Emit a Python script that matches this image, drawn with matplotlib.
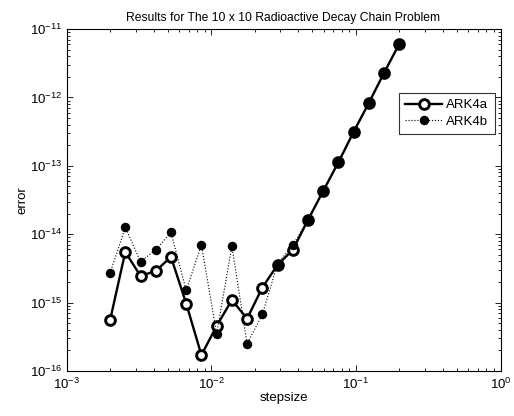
import matplotlib
matplotlib.use("Agg")
import matplotlib.pyplot as plt
from matplotlib.ticker import LogLocator, NullFormatter

plt.rcParams['font.family'] = ['Liberation Sans', 'DejaVu Sans']
plt.rcParams['mathtext.fontset'] = 'custom'
plt.rcParams['mathtext.rm'] = 'Liberation Sans'
plt.rcParams['mathtext.it'] = 'Liberation Sans:italic'
plt.rcParams['mathtext.bf'] = 'Liberation Sans:bold'

stepsize = [0.002, 0.002549, 0.003248, 0.004138, 0.005273, 0.006720, 0.008563,
            0.010911, 0.013904, 0.017717, 0.022577, 0.028769, 0.036660, 0.046714,
            0.059527, 0.075853, 0.096658, 0.12317, 0.15695, 0.2]
ark4a = [5.5e-16, 5.5e-15, 2.45e-15, 2.9e-15, 4.66e-15, 9.7e-16, 1.71e-16,
         4.56e-16, 1.09e-15, 5.83e-16, 1.66e-15, 3.56e-15, 5.9e-15, 1.62e-14,
         4.3e-14, 1.13e-13, 3.15e-13, 8.35e-13, 2.30e-12, 6.1e-12]
ark4b = [2.68e-15, 1.26e-14, 3.98e-15, 5.9e-15, 1.06e-14, 1.51e-15, 6.98e-15,
         3.5e-16, 6.7e-15, 2.5e-16, 6.7e-16, 3.7e-15, 6.9e-15, 1.62e-14,
         4.3e-14, 1.13e-13, 3.15e-13, 8.35e-13, 2.30e-12, 6.1e-12]
series_labels = ['ARK4a', 'ARK4b']
xticks = [1e-3, 1e-2, 1e-1, 1e0]
yticks = [1e-16, 1e-15, 1e-14, 1e-13, 1e-12, 1e-11]
title = 'Results for The 10 x 10 Radioactive Decay Chain Problem'

fig = plt.figure(figsize=(5.14, 4.16), dpi=100)
ax = fig.add_axes([66.5/514, 45/416, 434/514, 342/416])

ax.loglog(stepsize, ark4a, '-', color='black', linewidth=1.7,
          marker='o', markersize=7, markerfacecolor='white',
          markeredgecolor='black', markeredgewidth=2.1, label=series_labels[0])
ax.loglog(stepsize, ark4b, ':', color='black', linewidth=0.8,
          marker='o', markersize=5.8, markerfacecolor='black',
          markeredgecolor='black', label=series_labels[1])

ax.set_xlim(1e-3, 1e0)
ax.set_ylim(1e-16, 1e-11)
ax.set_xticks(xticks)
ax.set_yticks(yticks)
ax.xaxis.set_minor_locator(LogLocator(base=10, subs=range(2, 10), numticks=20))
ax.yaxis.set_minor_locator(LogLocator(base=10, subs=range(2, 10), numticks=20))
ax.xaxis.set_minor_formatter(NullFormatter())
ax.yaxis.set_minor_formatter(NullFormatter())
ax.tick_params(which='both', direction='in', top=True, right=True,
               labelsize=9.5, width=0.6)
ax.tick_params(which='major', length=4)
ax.tick_params(which='minor', length=2)
ax.tick_params(axis='y', pad=3)
ax.tick_params(axis='x', pad=4)
for s in ax.spines.values():
    s.set_linewidth(0.8)

ax.set_xlabel('stepsize', fontsize=9.5, labelpad=0)
ax.set_ylabel('error', fontsize=9.5, labelpad=1)
ax.set_title(title, fontsize=8.7, pad=6)

leg = ax.legend(loc='upper right', bbox_to_anchor=(0.987, 0.814), fontsize=9.5,
                frameon=True, fancybox=False, edgecolor='black',
                handlelength=2.8, borderpad=0.5, labelspacing=0.3,
                handletextpad=0.3, borderaxespad=0)
leg.get_frame().set_linewidth(0.8)

fig.savefig('out.png', dpi=100)
